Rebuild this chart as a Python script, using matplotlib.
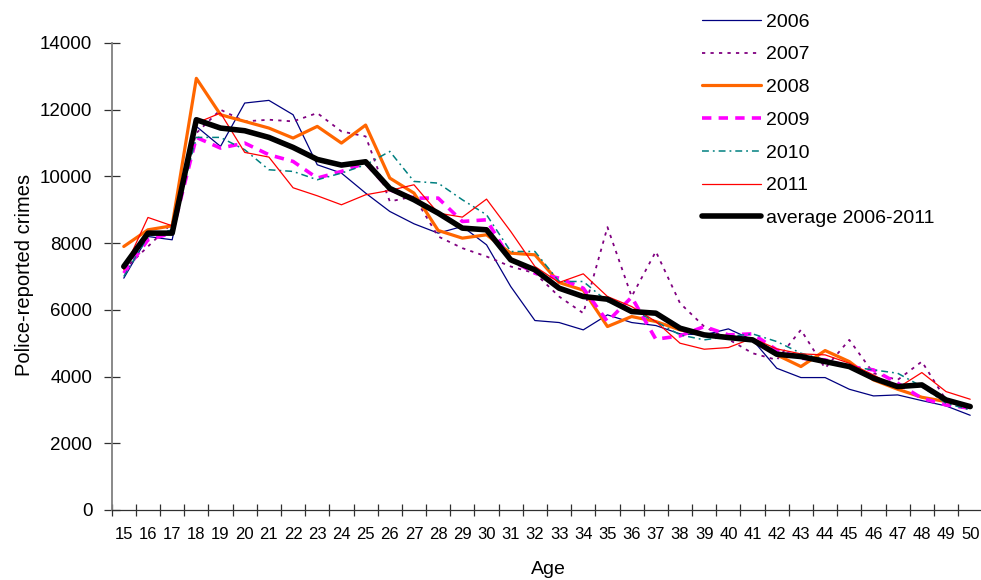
import matplotlib
matplotlib.use("Agg")
import matplotlib.pyplot as plt
import numpy as np

plt.rcParams['font.family'] = ['Liberation Sans', 'DejaVu Sans']

ages = list(range(15, 51))

y2006 = [6950, 8200, 8100, 11500, 10900, 12200, 12280, 11850, 10350, 10100,
         9500, 8950, 8580, 8300, 8500, 7950, 6700, 5680, 5620, 5400,
         5850, 5620, 5530, 5280, 5250, 5430, 5100, 4250, 3970, 3970,
         3620, 3420, 3450, 3280, 3120, 2840]
y2007 = [7200, 7900, 8600, 11300, 12000, 11650, 11700, 11650, 11900, 11350,
         11200, 9250, 9400, 8200, 7850, 7600, 7300, 7100, 6400, 5900,
         8480, 6400, 7750, 6200, 5500, 5120, 4700, 4500, 5400, 4250,
         5100, 4100, 3900, 4450, 3300, 3050]
y2008 = [7900, 8400, 8520, 12940, 11850, 11650, 11450, 11150, 11500, 11000,
         11540, 9950, 9500, 8380, 8150, 8250, 7700, 7650, 6820, 6590,
         5500, 5800, 5650, 5400, 5250, 5200, 5100, 4650, 4300, 4780,
         4450, 3900, 3620, 3380, 3250, 3120]
y2009 = [7100, 8100, 8300, 11170, 10850, 11000, 10650, 10450, 9950, 10150,
         10400, 9600, 9350, 9350, 8650, 8700, 7500, 7100, 6950, 6650,
         5650, 6380, 5120, 5220, 5500, 5250, 5280, 4800, 4550, 4500,
         4300, 4200, 3800, 3350, 3150, 3050]
y2010 = [7000, 8200, 8400, 11170, 11170, 10800, 10200, 10150, 9900, 10100,
         10350, 10750, 9850, 9800, 9300, 8850, 7750, 7750, 6850, 6850,
         6250, 6000, 5650, 5250, 5100, 5200, 5280, 5050, 4700, 4500,
         4300, 4200, 4100, 3700, 3200, 3000]
y2011 = [7200, 8770, 8520, 11600, 11900, 10720, 10580, 9660, 9420, 9150,
         9450, 9580, 9750, 8900, 8780, 9320, 8350, 7300, 6820, 7080,
         6400, 6100, 5650, 5000, 4820, 4870, 5150, 4830, 4680, 4650,
         4400, 4050, 3660, 4120, 3550, 3320]
yavg = [7300, 8300, 8300, 11700, 11450, 11370, 11170, 10870, 10510, 10340,
        10440, 9640, 9300, 8900, 8450, 8400, 7500, 7200, 6650, 6400,
        6320, 5950, 5900, 5450, 5250, 5170, 5100, 4670, 4600, 4450,
        4300, 3950, 3700, 3750, 3300, 3100]

labels = ['2006', '2007', '2008', '2009', '2010', '2011', 'average 2006-2011']

W, H = 981, 580
fig = plt.figure(figsize=(W / 100, H / 100), dpi=100)
left, right, top, bottom = 111.7, 982.3, 43, 510
ax = fig.add_axes([left / W, 1 - bottom / H, (right - left) / W, (bottom - top) / H])

series = [
    (y2006, dict(color='#000080', lw=0.9, ls='-')),
    (y2007, dict(color='#800080', lw=1.3, ls=(0, (1.8, 2.9)))),
    (y2008, dict(color='#FF6600', lw=2.3, ls='-')),
    (y2009, dict(color='#FF00FF', lw=2.6, ls=(0, (2.6, 2.0)))),
    (y2010, dict(color='#008080', lw=1.1, ls=(0, (4.5, 2.6, 1.2, 2.6)))),
    (y2011, dict(color='#FF0000', lw=0.9, ls='-')),
    (yavg, dict(color='#000000', lw=4.0, ls='-')),
]
handles = []
for (vals, st), lab in zip(series, labels):
    h, = ax.plot(ages, vals, label=lab, solid_joinstyle='round',
                 solid_capstyle='round', dash_capstyle='butt', **st)
    handles.append(h)

ax.set_xlim(14.5, 50.5)
ax.set_ylim(0, 14000)
ax.set_yticks(np.arange(0, 14001, 2000))
ax.set_xticks(ages)
ax.set_xticks(np.arange(14.5, 50.6, 1), minor=True)
ax.tick_params(axis='x', which='major', length=0, pad=12, labelsize=12)
ax.tick_params(axis='x', which='minor', length=8, direction='inout', width=0.9, color='#303030')
ax.tick_params(axis='y', length=12, direction='inout', width=0.9, color='#303030', pad=8, labelsize=13.5)

for s in ['top', 'right']:
    ax.spines[s].set_visible(False)
ax.spines['left'].set_color('#808080')
ax.spines['left'].set_linewidth(1.3)
ax.spines['bottom'].set_color('#303030')
ax.spines['bottom'].set_linewidth(0.9)

fig.text(25 / W, 1 - 275 / H, 'Police-reported crimes', rotation=90,
         ha='center', va='center', fontsize=14.5)
fig.text(548 / W, 1 - 570 / H, 'Age', ha='center', va='center', fontsize=14)

fig.legend(handles=handles, loc='upper left', bbox_to_anchor=(702 / W, 1 - 13 / H),
           frameon=False, fontsize=14, handlelength=3.05, handletextpad=0.25,
           labelspacing=0.78, borderpad=0, borderaxespad=0)

fig.savefig('out.png', dpi=100)
